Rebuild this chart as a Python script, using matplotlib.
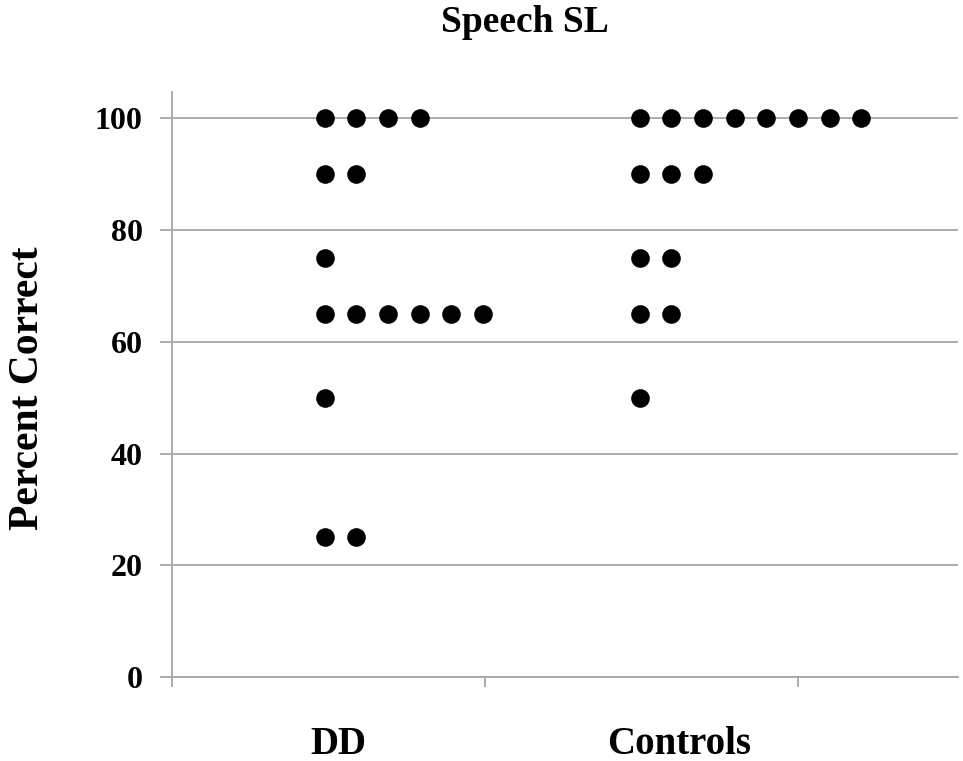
from matplotlib import pyplot as plt
from collections import Counter

# scores per participant (percent correct)
dd_scores = [100, 100, 100, 100, 90, 90, 75, 65, 65, 65, 65, 65, 65, 50, 25, 25]
control_scores = [100, 100, 100, 100, 100, 100, 100, 100,
                  90, 90, 90, 75, 75, 65, 65, 50]
groups = ["DD", "Controls"]
group_base = [0.488, 1.494]
y_ticks = [0, 20, 40, 60, 80, 100]


def stack_x(scores, base, step=0.101):
    """Place repeated scores side by side, like a dot plot."""
    seen = Counter()
    xs = []
    for s in scores:
        xs.append(base + step * seen[s])
        seen[s] += 1
    return xs


def main():
    plt.rcParams['font.family'] = ['Liberation Serif', 'DejaVu Serif']
    plt.rcParams['font.weight'] = 'bold'

    fig = plt.figure(figsize=(9.63, 7.61), dpi=100)
    ax = fig.add_axes([0.1786, 0.1104, 0.8162, 0.7686])

    grey = '#a6a6a6'
    for scores, base in zip([dd_scores, control_scores], group_base):
        ax.scatter(stack_x(scores, base), scores, s=180, color='black',
                   zorder=3, linewidths=0)

    ax.set_xlim(0, 2.51)
    ax.set_ylim(0, 104.7)
    ax.set_yticks(y_ticks)
    ax.set_yticklabels([str(t) for t in y_ticks], fontsize=23, fontweight='bold')
    ax.set_xticks([0, 1, 2])
    ax.set_xticklabels([])
    ax.yaxis.grid(True, color=grey, linewidth=1.3)
    ax.set_axisbelow(True)
    ax.tick_params(axis='y', direction='out', length=9, width=1.3,
                   color=grey, pad=12)
    ax.tick_params(axis='x', direction='out', length=7, width=1.3, color=grey)
    for side in ['top', 'right']:
        ax.spines[side].set_visible(False)
    for side in ['left', 'bottom']:
        ax.spines[side].set_color(grey)
        ax.spines[side].set_linewidth(1.3)

    fig.text(525 / 963, 1 - 23 / 761, "Speech SL", ha='center', va='center',
             fontsize=27, fontweight='bold')
    fig.text(28 / 963, 1 - 388 / 761, "Percent Correct", ha='center',
             va='center', rotation=90, fontsize=30, fontweight='bold')
    for name, xpix in zip(groups, [338, 679]):
        fig.text(xpix / 963, 1 - 744 / 761, name, ha='center', va='center',
                 fontsize=28, fontweight='bold')

    fig.savefig("out.png", dpi=100)


if __name__ == "__main__":
    main()
